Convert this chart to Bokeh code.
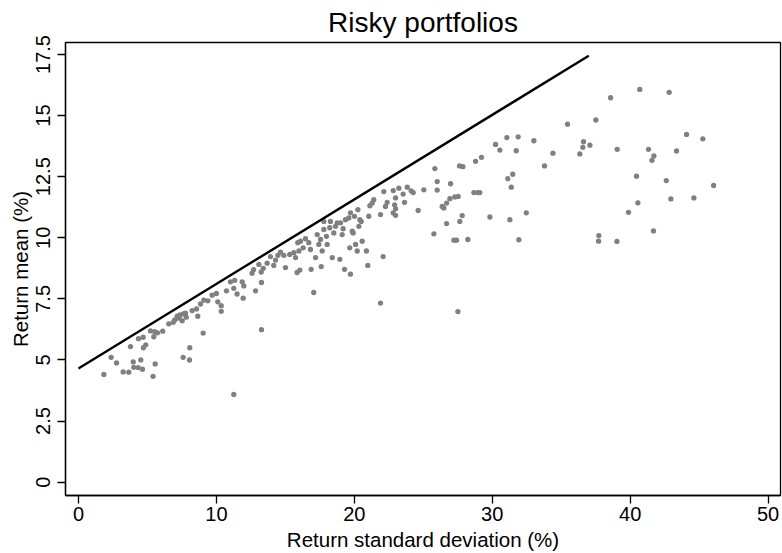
from bokeh.plotting import figure
from bokeh.models import FixedTicker, Range1d
from bokeh.embed import file_html
from bokeh.resources import INLINE

# ---- data ----
sd = [
    1.84, 2.37, 2.76, 3.24, 3.65, 3.77, 3.97, 4.01, 4.33, 4.35, 4.52, 4.64, 4.69, 4.71, 4.88,
    5.22, 5.46, 5.53, 5.56, 5.41, 5.73, 6.11, 6.55, 6.87, 6.98, 7.16, 7.30, 7.35, 7.52, 7.61,
    7.76, 7.81, 7.59, 8.07, 8.05, 9.04, 11.26, 13.27,
    8.24, 8.56, 8.65, 8.85, 9.09, 9.38, 9.69, 10.00, 10.10, 10.35, 10.35, 10.73, 11.02, 11.26,
    11.50, 11.33, 11.87, 11.99, 11.94, 12.59, 12.84, 13.08, 13.25, 13.27, 13.68, 13.92, 14.16,
    14.29, 14.46, 14.65, 14.89, 15.01, 15.32, 15.85, 15.98, 12.70, 13.40,
    15.62, 15.74, 15.90, 16.10, 16.29, 16.46, 16.70, 16.82, 16.87, 17.19, 17.31, 17.43, 17.55,
    17.60, 17.67, 17.79, 17.79, 17.98, 18.03, 18.22, 18.27, 18.40, 18.51, 18.64, 18.95, 19.00,
    19.12, 19.19, 19.36, 19.29, 19.72, 19.72, 19.67, 19.85, 20.09, 20.21, 20.26, 20.33, 20.50,
    20.57, 20.88, 20.98, 21.05, 21.13, 21.30, 21.41, 21.90, 22.09, 22.14, 22.26, 22.38,
    17.06, 21.90, 19.60, 20.01, 20.40, 18.76, 19.92, 16.05,
    22.82, 23.23, 23.84, 22.99, 23.54, 24.12, 24.27, 22.92, 22.99, 23.64, 22.82, 22.99, 24.63,
    25.04, 25.84, 26.01, 26.01, 26.98, 26.37, 26.69, 26.93, 27.29, 27.53, 26.49, 26.69, 25.77,
    27.65, 27.82, 27.22, 27.41, 28.23, 27.63, 27.87, 27.51, 28.67, 28.96, 29.10, 28.79, 29.22,
    29.83, 30.24, 30.55, 31.06, 31.88, 31.74, 31.13, 31.49, 31.38, 31.28, 32.47, 31.93, 33.02,
    33.79, 34.40, 35.46, 36.35, 36.57, 36.62, 37.08,
    37.51, 38.58, 40.70, 42.83, 39.06, 41.33, 41.72, 41.58, 43.36, 44.09, 45.27, 40.46, 42.62,
    46.05, 40.56, 42.95, 44.62, 39.88, 41.69, 37.73, 37.71, 39.04,
]
mean = [
    4.41, 5.11, 4.88, 4.51, 4.50, 5.55, 4.92, 4.70, 4.69, 5.87, 5.00, 4.62, 5.93, 5.50, 5.62,
    6.19, 5.95, 6.16, 4.84, 4.33, 6.11, 6.18, 6.48, 6.54, 6.64, 6.79, 6.71, 6.84, 6.60, 6.89,
    6.92, 6.75, 5.11, 5.50, 5.00, 6.10, 3.59, 6.24,
    7.02, 7.09, 6.79, 7.29, 7.45, 7.42, 7.65, 7.72, 7.38, 7.22, 6.99, 7.83, 8.20, 7.93,
    7.70, 8.26, 8.20, 8.03, 7.53, 8.55, 7.83, 8.91, 8.60, 8.17, 8.96, 9.23, 8.87,
    9.09, 9.28, 9.41, 9.28, 8.78, 9.32, 8.58, 9.46, 8.70, 8.75,
    9.39, 9.19, 9.80, 9.86, 9.59, 9.96, 9.80, 9.52, 8.71, 9.19, 10.13, 9.73, 9.93,
    8.82, 9.46, 10.34, 10.67, 10.06, 9.73, 10.41, 10.67, 9.19, 10.20, 10.47, 9.12, 10.61,
    10.13, 10.37, 10.74, 8.71, 8.51, 11.02, 9.59, 10.27, 9.73, 9.46, 11.15, 10.47, 10.67,
    9.86, 9.46, 8.87, 10.88, 11.31, 11.42, 11.56, 10.95, 9.23, 11.89, 11.28, 11.45,
    7.76, 7.33, 10.81, 10.88, 10.74, 10.61, 10.20, 8.68,
    11.93, 12.03, 12.07, 11.63, 11.79, 11.92, 11.85, 11.35, 11.19, 11.45, 11.02, 10.92, 11.12,
    11.96, 12.83, 12.30, 11.95, 12.21, 11.28, 11.42, 11.60, 11.67, 11.69, 11.22, 10.58, 10.16,
    10.67, 10.91, 9.90, 9.90, 9.93, 12.94, 12.91, 6.98, 11.85, 11.85, 11.85, 13.13, 13.29,
    10.85, 13.82, 13.59, 14.10, 14.13, 13.56, 12.42, 12.60, 12.07, 10.74, 11.02, 9.92, 13.97,
    12.94, 13.46, 14.65, 13.43, 13.70, 13.93, 13.79,
    14.82, 15.73, 16.07, 15.95, 13.62, 13.62, 13.35, 13.17, 13.55, 14.23, 14.05, 12.52, 12.34,
    12.14, 11.43, 11.59, 11.63, 11.04, 10.28, 10.09, 9.86, 9.85,
]
line_sd = [0.0, 37.0]
line_mean = [4.65, 17.45]

x_ticks = [0, 10, 20, 30, 40, 50]
y_ticks = [0, 2.5, 5, 7.5, 10, 12.5, 15, 17.5]
y_tick_labels = ["0", "2.5", "5", "7.5", "10", "12.5", "15", "17.5"]

FONT = "Liberation Sans"

p = figure(
    width=782, height=553,
    output_backend="svg", toolbar_location=None,
    x_range=Range1d(-0.94, 50.9), y_range=Range1d(-0.545, 17.99),
    min_border_left=65, min_border_right=2, min_border_top=42, min_border_bottom=55,
    background_fill_color="white", border_fill_color="white",
)

p.title.text = "Risky portfolios"
p.title.align = "center"
p.title.text_font = FONT
p.title.text_font_size = "28px"
p.title.text_font_style = "normal"
p.title.text_color = "black"
p.title.standoff = 9

p.outline_line_color = "black"
p.outline_line_width = 1.3
p.xgrid.visible = False
p.ygrid.visible = False

for ax in (p.xaxis[0], p.yaxis[0]):
    ax.axis_line_color = "black"
    ax.axis_line_width = 1.3
    ax.major_tick_line_color = "black"
    ax.major_tick_line_width = 1.3
    ax.major_tick_out = 8
    ax.major_tick_in = 0
    ax.minor_tick_out = 0
    ax.minor_tick_in = 0
    ax.major_label_text_font = FONT
    ax.major_label_text_font_size = "20px"
    ax.major_label_text_color = "black"
    ax.axis_label_text_font = FONT
    ax.axis_label_text_font_size = "20.5px"
    ax.axis_label_text_font_style = "normal"
    ax.axis_label_text_color = "black"

p.xaxis.ticker = FixedTicker(ticks=x_ticks)
p.xaxis.axis_label = "Return standard deviation (%)"
p.xaxis.major_label_standoff = 3
p.xaxis.axis_label_standoff = 4

p.yaxis.ticker = FixedTicker(ticks=y_ticks)
p.yaxis.major_label_overrides = {t: l for t, l in zip(y_ticks, y_tick_labels)}
p.yaxis.major_label_orientation = "vertical"
p.yaxis.axis_label = "Return mean (%)"
p.yaxis.major_label_standoff = 7
p.yaxis.axis_label_standoff = 2

p.scatter(sd, mean, size=5.3, fill_color="#808080", line_color=None)
p.line(line_sd, line_mean, line_color="black", line_width=2.4)

open("out.html", "w").write(file_html(p, INLINE))
